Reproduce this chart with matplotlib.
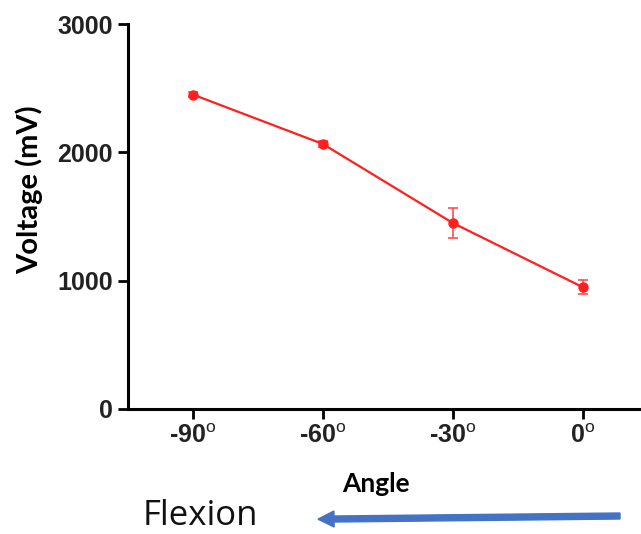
import matplotlib.pyplot as plt

# voltage vs joint angle (mean +/- error)
angles = [-90, -60, -30, 0]
voltage = [2450, 2065, 1450, 950]
voltage_err = [20, 20, 120, 55]
tick_labels = ["-90$^{\\mathrm{o}}$", "-60$^{\\mathrm{o}}$", "-30$^{\\mathrm{o}}$", "0$^{\\mathrm{o}}$"]

plt.rcParams["mathtext.fontset"] = "custom"
plt.rcParams["mathtext.rm"] = "Liberation Sans"

fig = plt.figure(figsize=(6.41, 5.34), dpi=100)
ax = fig.add_axes([128 / 641, 125 / 534, 1 - 128 / 641, 385 / 534])

ax.errorbar(angles, voltage, yerr=voltage_err, color="#ff1f1f", marker="o",
            markersize=6.5, linewidth=1.6, elinewidth=1.2, capsize=3.5,
            ecolor="#ff4d4d", capthick=1.2)

ax.set_xlim(-105, 13.5)
ax.set_ylim(0, 3000)
ax.set_yticks([0, 1000, 2000, 3000])
ax.set_xticks(angles)
ax.set_xticklabels(tick_labels)

for side in ("top", "right"):
    ax.spines[side].set_visible(False)
for side in ("left", "bottom"):
    ax.spines[side].set_linewidth(2.2)
ax.tick_params(width=2, length=7, labelsize=18, pad=4)
for lbl in ax.get_yticklabels() + ax.get_xticklabels():
    lbl.set_family("Liberation Sans")
    lbl.set_fontweight("bold")
    lbl.set_color("#222222")

ax.set_ylabel("Voltage (mV)", family="Lato", fontweight="bold", fontsize=21)
ax.yaxis.set_label_coords(-0.165, 0.57)
ax.set_xlabel("Angle", family="Lato", fontweight="bold", fontsize=19)
ax.xaxis.set_label_coords(0.483, -0.163)

fig.text(143 / 641, 1 - 516 / 534, "Flexion", family="Open Sans", fontsize=25,
         va="center", ha="left", color="#111111")
fig.patches.append(plt.matplotlib.patches.FancyArrow(
    620 / 641, 1 - 516 / 534, -286 / 641, -3 / 534, width=6 / 534,
    head_width=16 / 534, head_length=16 / 641, length_includes_head=False,
    color="#4472c4", transform=fig.transFigure, figure=fig))

fig.savefig("out.png", dpi=100)
